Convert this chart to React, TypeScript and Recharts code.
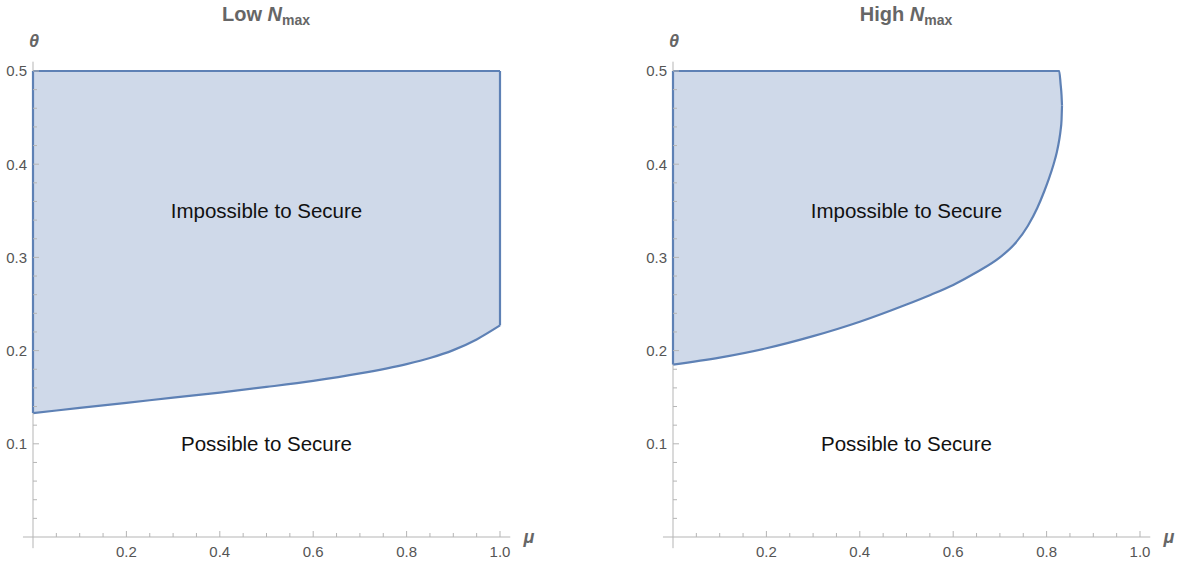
import React from 'react';
import { ComposedChart, Area, XAxis, YAxis, ReferenceLine, ReferenceDot } from 'recharts';

// Low N_max panel: lower boundary theta(mu), region runs up to theta = 0.5
const muLow = [0, 0.1, 0.2, 0.3, 0.4, 0.5, 0.6, 0.7, 0.8, 0.85, 0.9, 0.95, 1.0];
const thetaLowerLow = [0.133, 0.1385, 0.144, 0.1495, 0.155, 0.161, 0.1675, 0.1755, 0.1855, 0.192, 0.2005, 0.212, 0.227];
const thetaUpperLow = [0.5, 0.5, 0.5, 0.5, 0.5, 0.5, 0.5, 0.5, 0.5, 0.5, 0.5, 0.5, 0.5];

// High N_max panel: lower and upper boundaries (upper bends in near mu ~ 0.83)
const muHigh = [0, 0.1, 0.2, 0.3, 0.4, 0.5, 0.55, 0.6, 0.65, 0.7, 0.73, 0.76, 0.78, 0.795, 0.805, 0.815, 0.822, 0.827, 0.83, 0.832, 0.833];
const thetaLowerHigh = [0.185, 0.1925, 0.2025, 0.2155, 0.231, 0.2495, 0.2595, 0.2705, 0.284, 0.3, 0.3135, 0.334, 0.353, 0.371, 0.3845, 0.4, 0.413, 0.426, 0.4365, 0.4475, 0.463];
const thetaUpperHigh = [0.5, 0.5, 0.5, 0.5, 0.5, 0.5, 0.5, 0.5, 0.5, 0.5, 0.5, 0.5, 0.5, 0.5, 0.5, 0.5, 0.5, 0.5, 0.486, 0.474, 0.463];

const majorX = [0.2, 0.4, 0.6, 0.8, 1.0];
const minorX = [0.05, 0.1, 0.15, 0.25, 0.3, 0.35, 0.45, 0.5, 0.55, 0.65, 0.7, 0.75, 0.85, 0.9, 0.95];
const majorY = [0.1, 0.2, 0.3, 0.4, 0.5];
const minorY = [0.02, 0.04, 0.06, 0.08, 0.12, 0.14, 0.16, 0.18, 0.22, 0.24, 0.26, 0.28, 0.32, 0.34, 0.36, 0.38, 0.42, 0.44, 0.46, 0.48];

const regionLabels = [
  { text: 'Impossible to Secure', mu: 0.5, theta: 0.35 },
  { text: 'Possible to Secure', mu: 0.5, theta: 0.1 },
];

// axis lines overhang the plot a little, like Mathematica draws them
const xAxisSpan = [-0.0215, 1.022];
const yAxisSpan = [-0.012, 0.51];

const FONT = '"Liberation Sans", Arial, sans-serif';
const AXIS = '#b5b5b5';
const EDGE = '#5e81b5';
const FILL = '#cfd9e9';
const TICK_TEXT = '#555';

const X_GAP = 10; // tickSize + tickMargin of the x axis
const Y_GAP = 6;  // tickSize + tickMargin of the y axis

const xTicks = [...majorX, ...minorX].sort((a, b) => a - b);
const yTicks = [...majorY, ...minorY].sort((a, b) => a - b);

const toRows = (mu: number[], lo: number[], hi: number[]) =>
  mu.map((m, i) => ({ mu: m, range: [lo[i], hi[i]] }));

// tick marks point into the plot, labels only on the major ticks
const XTick = (props: any) => {
  const { x, y, payload } = props;
  const v = payload.value;
  const major = majorX.includes(v);
  const axisY = y - X_GAP;
  return (
    <g>
      <line x1={x} x2={x} y1={axisY} y2={axisY - (major ? 6 : 4)} stroke={AXIS} />
      {major && (
        <text x={x} y={y} dy="0.68em" textAnchor="middle" fill={TICK_TEXT} fontSize={15} fontFamily={FONT}>
          {v.toFixed(1)}
        </text>
      )}
    </g>
  );
};

const YTick = (props: any) => {
  const { x, y, payload } = props;
  const v = payload.value;
  const major = majorY.includes(v);
  const axisX = x + Y_GAP;
  return (
    <g>
      <line x1={axisX} x2={axisX + (major ? 6 : 4)} y1={y} y2={y} stroke={AXIS} />
      {major && (
        <text x={x} y={y} dy="0.355em" textAnchor="end" fill={TICK_TEXT} fontSize={15} fontFamily={FONT}>
          {v.toFixed(1)}
        </text>
      )}
    </g>
  );
};

function Panel({ left, width, rows, edges }: {
  left: number;
  width: number;
  rows: { mu: number; range: number[] }[];
  edges: { x: number; y1: number; y2: number }[];
}) {
  return (
    <div style={{ position: 'absolute', left, top: 0 }}>
      <ComposedChart width={width} height={563} data={rows}
        margin={{ top: 71, right: width - 500, bottom: 0, left: 0 }}>
        <XAxis dataKey="mu" type="number" domain={[0, 1]} ticks={xTicks} interval={0}
          axisLine={false} tickLine={false} tickSize={4} tickMargin={6} height={26}
          tick={XTick} />
        <YAxis type="number" domain={[0, 0.5]} ticks={yTicks} interval={0}
          axisLine={false} tickLine={false} tickSize={2} tickMargin={4} width={33}
          tick={YTick} />

        <ReferenceLine ifOverflow="visible" stroke={AXIS} strokeWidth={1}
          segment={[{ x: xAxisSpan[0], y: 0 }, { x: xAxisSpan[1], y: 0 }]} />
        <ReferenceLine ifOverflow="visible" stroke={AXIS} strokeWidth={1}
          segment={[{ x: 0, y: yAxisSpan[0] }, { x: 0, y: yAxisSpan[1] }]} />

        <Area dataKey="range" type="monotone" fill={FILL} fillOpacity={1} stroke={EDGE}
          strokeWidth={2.2} dot={false} activeDot={false} isAnimationActive={false} />

        {edges.map((e, i) => (
          <ReferenceLine key={i} ifOverflow="visible" stroke={EDGE} strokeWidth={2.2}
            segment={[{ x: e.x, y: e.y1 }, { x: e.x, y: e.y2 }]} />
        ))}

        {regionLabels.map((l) => (
          <ReferenceDot key={l.text} x={l.mu} y={l.theta} r={0} fill="none" stroke="none"
            label={{ value: l.text, position: 'center', fill: '#111', fontSize: 20.5, fontFamily: FONT }} />
        ))}
      </ComposedChart>
    </div>
  );
}

const titleStyle: React.CSSProperties = {
  position: 'absolute', top: 2, width: 200, textAlign: 'center',
  fontFamily: FONT, fontWeight: 'bold', fontSize: 20, lineHeight: '24px', color: '#666',
};
const axisLabelStyle: React.CSSProperties = {
  position: 'absolute', width: 30, textAlign: 'center', fontFamily: FONT,
  fontWeight: 'bold', fontStyle: 'italic', fontSize: 18, lineHeight: '18px', color: '#666',
};

function Title({ cx, word }: { cx: number; word: string }) {
  return (
    <div style={{ ...titleStyle, left: cx - 100 }}>
      {word} <i>N</i>
      <span style={{ fontSize: 14, verticalAlign: '-4px' }}>max</span>
    </div>
  );
}

export default function App() {
  const rowsLow = toRows(muLow, thetaLowerLow, thetaUpperLow);
  const rowsHigh = toRows(muHigh, thetaLowerHigh, thetaUpperHigh);

  return (
    <div style={{ position: 'absolute', left: 0, top: 0, width: 1179, height: 563, background: '#fff' }}>
      <Panel left={0} width={590} rows={rowsLow}
        edges={[
          { x: 0, y1: thetaLowerLow[0], y2: thetaUpperLow[0] },
          { x: 1, y1: thetaLowerLow[thetaLowerLow.length - 1], y2: thetaUpperLow[thetaUpperLow.length - 1] },
        ]} />
      <Panel left={640} width={539} rows={rowsHigh}
        edges={[{ x: 0, y1: thetaLowerHigh[0], y2: thetaUpperHigh[0] }]} />

      <Title cx={266} word="Low" />
      <Title cx={906} word="High" />

      <div style={{ ...axisLabelStyle, left: 19, top: 32 }}>θ</div>
      <div style={{ ...axisLabelStyle, left: 659, top: 32 }}>θ</div>
      <div style={{ ...axisLabelStyle, left: 514, top: 528 }}>μ</div>
      <div style={{ ...axisLabelStyle, left: 1154, top: 528 }}>μ</div>
    </div>
  );
}
